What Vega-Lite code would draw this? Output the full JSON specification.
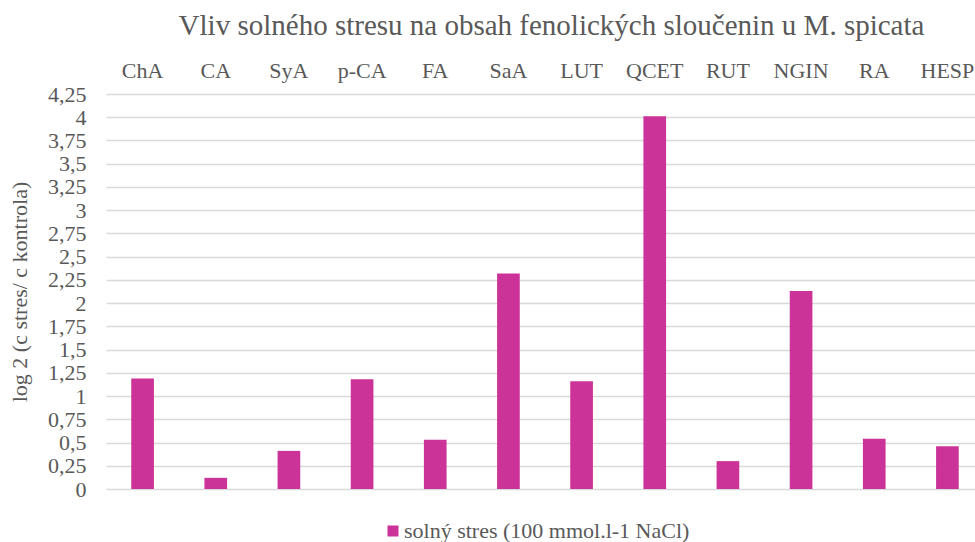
{
  "$schema": "https://vega.github.io/schema/vega-lite/v6.json",
  "autosize": "none",
  "width": 869,
  "height": 395,
  "padding": {"left": 106, "top": 94, "right": 0, "bottom": 53},
  "background": "white",
  "config": {
    "font": "Liberation Serif",
    "view": {"stroke": null},
    "axis": {"labelFont": "Liberation Serif", "titleFont": "Liberation Serif", "labelColor": "#595959", "titleColor": "#595959"},
    "legend": {"labelFont": "Liberation Serif", "labelColor": "#595959"},
    "text": {"font": "Liberation Serif"}
  },
  "title": {
    "text": "Vliv solného stresu na obsah fenolických sloučenin u M. spicata",
    "font": "Liberation Serif",
    "fontSize": 29,
    "fontWeight": "normal",
    "color": "#595959",
    "anchor": "middle",
    "dx": 11,
    "offset": 18
  },
  "data": {
    "values": [
      {"compound": "ChA", "value": 1.19, "series": "solný stres (100 mmol.l-1 NaCl)"},
      {"compound": "CA", "value": 0.12, "series": "solný stres (100 mmol.l-1 NaCl)"},
      {"compound": "SyA", "value": 0.41, "series": "solný stres (100 mmol.l-1 NaCl)"},
      {"compound": "p-CA", "value": 1.18, "series": "solný stres (100 mmol.l-1 NaCl)"},
      {"compound": "FA", "value": 0.53, "series": "solný stres (100 mmol.l-1 NaCl)"},
      {"compound": "SaA", "value": 2.32, "series": "solný stres (100 mmol.l-1 NaCl)"},
      {"compound": "LUT", "value": 1.16, "series": "solný stres (100 mmol.l-1 NaCl)"},
      {"compound": "QCET", "value": 4.01, "series": "solný stres (100 mmol.l-1 NaCl)"},
      {"compound": "RUT", "value": 0.30, "series": "solný stres (100 mmol.l-1 NaCl)"},
      {"compound": "NGIN", "value": 2.13, "series": "solný stres (100 mmol.l-1 NaCl)"},
      {"compound": "RA", "value": 0.54, "series": "solný stres (100 mmol.l-1 NaCl)"},
      {"compound": "HESP", "value": 0.46, "series": "solný stres (100 mmol.l-1 NaCl)"}
    ]
  },
  "mark": {"type": "bar"},
  "encoding": {
    "x": {
      "field": "compound",
      "type": "nominal",
      "sort": null,
      "scale": {"range": [0, 878], "paddingInner": 0.69, "paddingOuter": 0.345},
      "axis": {
        "orient": "top",
        "title": null,
        "labelAngle": 0,
        "labelFont": "Liberation Serif",
        "labelFontSize": 22,
        "labelPadding": 12,
        "labelLimit": 0,
        "ticks": false,
        "domain": false,
        "grid": false
      }
    },
    "y": {
      "field": "value",
      "type": "quantitative",
      "scale": {"domain": [0, 4.25], "nice": false},
      "axis": {
        "title": "log 2 (c stres/ c kontrola)",
        "titleFont": "Liberation Serif",
        "titleFontSize": 22,
        "titleFontWeight": "normal",
        "titlePadding": 16,
        "values": [0, 0.25, 0.5, 0.75, 1, 1.25, 1.5, 1.75, 2, 2.25, 2.5, 2.75, 3, 3.25, 3.5, 3.75, 4, 4.25],
        "labelExpr": "replace(format(datum.value, '~g'), '.', ',')",
        "labelFont": "Liberation Serif",
        "labelFontSize": 22,
        "labelPadding": 20,
        "ticks": false,
        "domain": false,
        "grid": true,
        "gridColor": "#d9d9d9",
        "gridWidth": 1.4
      }
    },
    "color": {
      "field": "series",
      "type": "nominal",
      "scale": {"range": ["#CC3399"]},
      "legend": {
        "title": null,
        "orient": "none",
        "legendX": 276,
        "legendY": 426,
        "padding": 0,
        "direction": "horizontal",
        "symbolType": "square",
        "symbolSize": 121,
        "symbolOpacity": 1,
        "symbolStrokeWidth": 0,
        "labelFont": "Liberation Serif",
        "labelFontSize": 22,
        "labelLimit": 0,
        "labelOffset": 0
      }
    }
  }
}
